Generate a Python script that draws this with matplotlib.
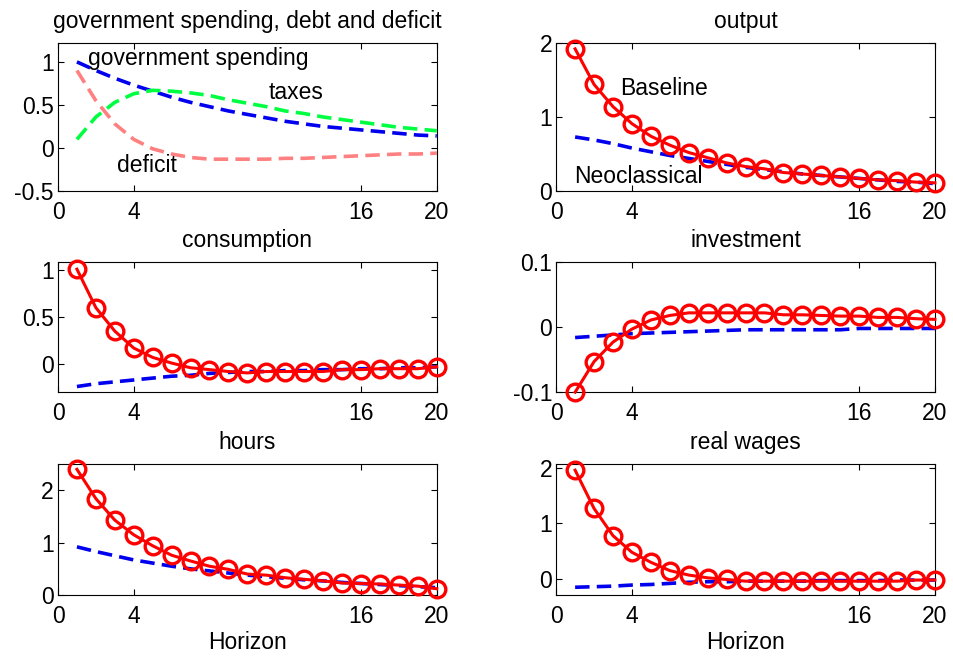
import numpy as np
import matplotlib
matplotlib.use('Agg')
import matplotlib.pyplot as plt

plt.rcParams['font.family'] = ['Liberation Sans', 'DejaVu Sans']
plt.rcParams['font.size'] = 16.5

h = np.arange(1, 21)

# government spending, taxes and deficit
gov = [1.00, 0.90, 0.81, 0.73, 0.66, 0.59, 0.53, 0.48, 0.43, 0.39,
       0.35, 0.31, 0.28, 0.25, 0.23, 0.21, 0.19, 0.17, 0.15, 0.14]
taxes = [0.10, 0.36, 0.53, 0.63, 0.67, 0.66, 0.64, 0.61, 0.56, 0.52,
         0.48, 0.43, 0.40, 0.36, 0.33, 0.30, 0.27, 0.24, 0.22, 0.20]
deficit = [0.90, 0.55, 0.28, 0.10, -0.01, -0.07, -0.11, -0.13, -0.13, -0.13,
           -0.13, -0.12, -0.12, -0.11, -0.10, -0.09, -0.08, -0.07, -0.07, -0.06]

# baseline vs neoclassical responses
out_base = [1.92, 1.44, 1.14, 0.91, 0.74, 0.62, 0.52, 0.45, 0.38, 0.33,
            0.30, 0.25, 0.23, 0.21, 0.19, 0.17, 0.15, 0.14, 0.12, 0.11]
out_neo = [0.73, 0.69, 0.64, 0.58, 0.53, 0.48, 0.44, 0.40, 0.36, 0.32,
           0.29, 0.26, 0.23, 0.21, 0.19, 0.17, 0.15, 0.13, 0.12, 0.10]
cons_base = [1.01, 0.60, 0.35, 0.17, 0.07, 0.01, -0.04, -0.06, -0.08, -0.095,
             -0.08, -0.08, -0.08, -0.08, -0.06, -0.06, -0.05, -0.05, -0.05, -0.03]
cons_neo = [-0.24, -0.21, -0.19, -0.17, -0.15, -0.13, -0.12, -0.10, -0.09, -0.08,
            -0.08, -0.07, -0.07, -0.06, -0.06, -0.05, -0.05, -0.04, -0.04, -0.03]
inv_base = [-0.100, -0.053, -0.023, -0.003, 0.011, 0.018, 0.022, 0.022, 0.022, 0.022,
            0.022, 0.019, 0.019, 0.018, 0.017, 0.017, 0.015, 0.015, 0.013, 0.012]
inv_neo = [-0.016, -0.014, -0.012, -0.010, -0.009, -0.008, -0.007, -0.006, -0.005, -0.004,
           -0.004, -0.004, -0.004, -0.004, -0.004, -0.002, -0.002, -0.002, -0.002, -0.002]
hrs_base = [2.40, 1.84, 1.43, 1.15, 0.94, 0.76, 0.65, 0.55, 0.49, 0.40,
            0.38, 0.33, 0.30, 0.27, 0.23, 0.22, 0.21, 0.19, 0.17, 0.12]
hrs_neo = [0.92, 0.83, 0.75, 0.67, 0.61, 0.55, 0.50, 0.46, 0.42, 0.38,
           0.35, 0.32, 0.29, 0.27, 0.24, 0.22, 0.20, 0.18, 0.16, 0.14]
wage_base = [1.96, 1.27, 0.78, 0.48, 0.30, 0.15, 0.07, 0.02, -0.01, -0.04,
             -0.04, -0.04, -0.04, -0.04, -0.04, -0.04, -0.04, -0.04, -0.02, -0.02]
wage_neo = [-0.15, -0.14, -0.13, -0.11, -0.10, -0.08, -0.06, -0.05, -0.05, -0.04,
            -0.04, -0.04, -0.04, -0.03, -0.03, -0.03, -0.03, -0.02, -0.02, -0.02]

xticks = [0, 4, 16, 20]
dash = (0, (4, 2))

fig = plt.figure(figsize=(9.54, 6.58), dpi=100)
lx, rx, w = 0.0608, 0.583, 0.397
rows = [(0.7097, 0.225), (0.404, 0.1976), (0.0957, 0.199)]
axes = []
for b, ht in rows:
    axes.append(fig.add_axes([lx, b, w, ht]))
    axes.append(fig.add_axes([rx, b, w, ht]))

def style(ax):
    ax.set_xlim(0, 20)
    ax.set_xticks(xticks)
    ax.tick_params(direction='in', length=4, top=True, right=True, width=0.8)
    ax.tick_params(axis='x', pad=7)
    ax.tick_params(axis='y', pad=3)
    for s in ax.spines.values():
        s.set_linewidth(0.8)

# government spending panel
ax = axes[0]
ax.plot(h, gov, color='#0000ee', lw=2.6, ls=dash)
ax.plot(h, taxes, color='#00ff40', lw=2.6, ls=dash)
ax.plot(h, deficit, color='#ff8080', lw=2.6, ls=dash)
ax.text(1.6, 1.04, 'government spending', va='center')
ax.text(11.1, 0.64, 'taxes', va='center')
ax.text(3.1, -0.2, 'deficit', va='center')
ax.set_ylim(-0.5, 1.22)
ax.set_yticks([-0.5, 0, 0.5, 1])
ax.set_yticklabels(['-0.5', '0', '0.5', '1'])
ax.set_title('government spending, debt and deficit', fontsize=16.5, pad=11)
style(ax)

panels = [
    (axes[1], out_neo, out_base, 'output', (0, 2.0), [0, 1, 2], ['0', '1', '2']),
    (axes[2], cons_neo, cons_base, 'consumption', (-0.3, 1.085), [0, 0.5, 1], ['0', '0.5', '1']),
    (axes[3], inv_neo, inv_base, 'investment', (-0.1, 0.1), [-0.1, 0, 0.1], ['-0.1', '0', '0.1']),
    (axes[4], hrs_neo, hrs_base, 'hours', (0, 2.5), [0, 1, 2], ['0', '1', '2']),
    (axes[5], wage_neo, wage_base, 'real wages', (-0.29, 2.07), [0, 1, 2], ['0', '1', '2']),
]
for ax, neo, base, title, ylim, yt, ytl in panels:
    ax.plot(h, neo, color='#0000ee', lw=2.6, ls=dash, zorder=2)
    ax.plot(h, base, color='red', lw=2.2, marker='o', ms=12, mfc='none',
            mec='red', mew=2.4, zorder=3, clip_on=False)
    ax.set_ylim(*ylim)
    ax.set_yticks(yt)
    ax.set_yticklabels(ytl)
    ax.set_title(title, fontsize=16.5, pad=11)
    style(ax)

axes[1].text(3.4, 1.38, 'Baseline', va='center')
axes[1].text(0.93, 0.2, 'Neoclassical', va='center')

axes[4].set_xlabel('Horizon', labelpad=2)
axes[5].set_xlabel('Horizon', labelpad=2)

fig.savefig('out.png', dpi=100)
